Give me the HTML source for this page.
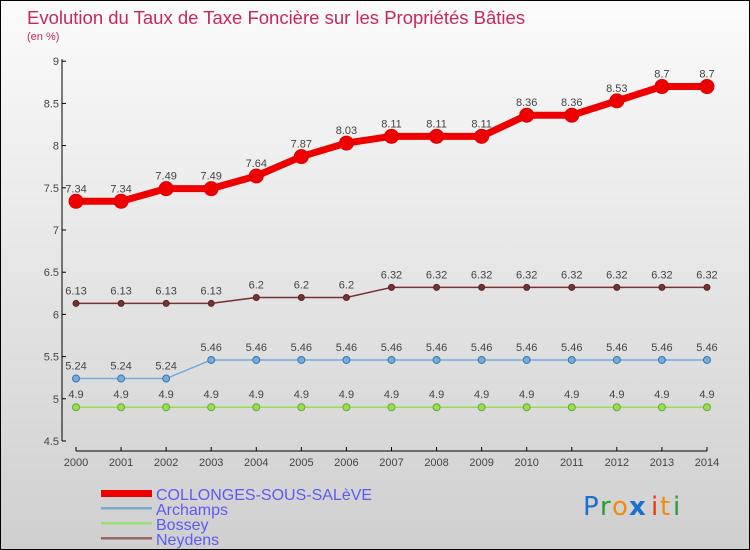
<!DOCTYPE html>
<html><head><meta charset="utf-8"><style>
body{margin:0}
#c{width:748px;height:548px;border:1px solid #000;background:linear-gradient(#fbfbfb,#cfcfcf);position:relative;overflow:hidden;font-family:"Liberation Sans",sans-serif}
</style></head><body>
<div id="c">
<svg id="s" width="748" height="548" style="position:absolute;left:0;top:0;font-family:'Liberation Sans',sans-serif">
<text x="26" y="23" font-size="18.5" fill="#c8275a" font-weight="300">Evolution du Taux de Taxe Foncière sur les Propriétés Bâties</text>
<text x="26" y="39" font-size="11" fill="#c8275a">(en %)</text>
<g id="g"></g>
<g>
<rect x="100" y="489" width="51" height="7" fill="#e00"/>
<text x="155" y="499" font-size="16" fill="#5b5bf0">COLLONGES-SOUS-SALèVE</text>
<rect x="100" y="506" width="51" height="2.5" fill="#78aacc"/>
<text x="155" y="514" font-size="16" fill="#5b5bf0">Archamps</text>
<rect x="100" y="521" width="51" height="2.5" fill="#99dd77"/>
<text x="155" y="529" font-size="16" fill="#5b5bf0">Bossey</text>
<rect x="100" y="536" width="51" height="2.5" fill="#996666"/>
<text x="155" y="544" font-size="16" fill="#5b5bf0">Neydens</text>
</g>
<g font-size="26" font-family="'DejaVu Sans',sans-serif">
<text x="582" y="514" fill="#1a6fd0">P</text><text x="599" y="514" fill="#2a9a3a">r</text><text x="611" y="514" fill="#f08a10">o</text><text x="628" y="514" fill="#1a6fd0" font-weight="bold">x</text><text x="650" y="514" fill="#e83a10">i</text><text x="659" y="514" fill="#f08a10">t</text><text x="672" y="514" fill="#2a9a3a">i</text>
</g>
</svg>
</div>
<script>
const years=[2000,2001,2002,2003,2004,2005,2006,2007,2008,2009,2010,2011,2012,2013,2014];
const yTicks=[4.5,5,5.5,6,6.5,7,7.5,8,8.5,9];
const collonges=[7.34,7.34,7.49,7.49,7.64,7.87,8.03,8.11,8.11,8.11,8.36,8.36,8.53,8.7,8.7];
const archamps=[5.24,5.24,5.24,5.46,5.46,5.46,5.46,5.46,5.46,5.46,5.46,5.46,5.46,5.46,5.46];
const bossey=[4.9,4.9,4.9,4.9,4.9,4.9,4.9,4.9,4.9,4.9,4.9,4.9,4.9,4.9,4.9];
const neydens=[6.13,6.13,6.13,6.13,6.2,6.2,6.2,6.32,6.32,6.32,6.32,6.32,6.32,6.32,6.32];
const NS='http://www.w3.org/2000/svg',g=document.getElementById('g');
const X=i=>75+i*45.07, Y=v=>440-(v-4.5)*84.4;
function el(t,a){const e=document.createElementNS(NS,t);for(const k in a)e.setAttribute(k,a[k]);g.appendChild(e);return e;}
let e;
e=el('line',{x1:61,y1:58,x2:61,y2:440,stroke:'#000'});


e=el('line',{x1:75,y1:450,x2:706,y2:450,stroke:'#000'});


yTicks.forEach(v=>{
 el('line',{x1:61,y1:Y(v),x2:65,y2:Y(v),stroke:'#000'});
 e=el('text',{x:58,y:Y(v)+4,'font-size':11,fill:'#444','text-anchor':'end'});e.textContent=v;
 
 
});
years.forEach((y,i)=>{
 el('line',{x1:X(i),y1:446,x2:X(i),y2:450,stroke:'#000'});
 e=el('text',{x:X(i),y:465,'font-size':11,fill:'#444','text-anchor':'middle'});e.textContent=y;
 
 
});
function series(data,name,col,w,r,stroke){
 const pts=data.map((v,i)=>X(i)+','+Y(v)).join(' ');
 e=el('polyline',{points:pts,fill:'none',stroke:col,'stroke-width':w,'stroke-linejoin':'round'});
 
 
 data.forEach((v,i)=>{
  e=el('circle',{cx:X(i),cy:Y(v),r:r,fill:col,stroke:stroke,'stroke-width':1});
  
  
  e=el('text',{x:X(i),y:Y(v)-9,'font-size':11,fill:'#444','text-anchor':'middle'});e.textContent=v;
  
  
 });
}
series(bossey,'bossey','#99dd55',1.5,3.5,'#66aa33');
series(archamps,'archamps','#77aadd',1.5,3.5,'#3377aa');
series(neydens,'neydens','#773333',1.5,3,'#552222');
series(collonges,'collonges','#ee0000',7,7,'#dd0000');
</script>
</body></html>
